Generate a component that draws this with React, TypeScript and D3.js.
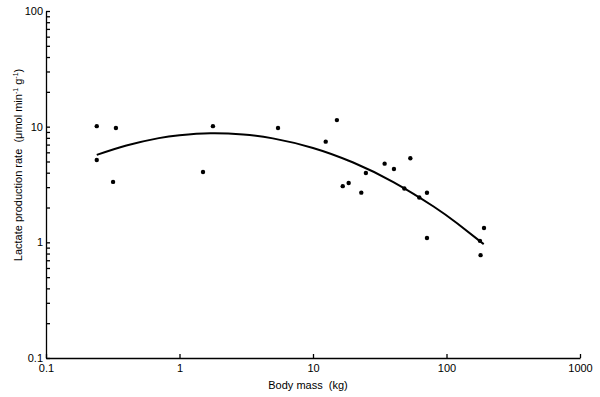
import React, { useEffect, useRef } from 'react';
import * as d3 from 'd3';

// body mass (kg) and lactate production rate
const massKg = [0.24, 0.24, 0.334, 0.318, 1.5, 1.78, 5.47, 12.45, 15.1, 16.7, 18.5, 23.0, 24.9, 34.4, 40.4, 53.6, 48.3, 62.5, 71.4, 71.4, 178, 191, 180];
const lactateRate = [10.1, 5.15, 9.75, 3.33, 4.06, 10.1, 9.75, 7.42, 11.4, 3.06, 3.26, 2.69, 3.98, 4.79, 4.31, 5.33, 2.92, 2.44, 2.68, 1.09, 1.03, 1.33, 0.775];

// fitted curve
const fitMass = [0.24, 0.4, 0.7, 1, 1.7, 3, 5, 10, 20, 40, 80, 120, 190];
const fitRate = [5.7, 6.88, 7.96, 8.43, 8.77, 8.56, 7.92, 6.55, 4.9, 3.32, 2.04, 1.46, 0.965];

const xTicks = [0.1, 1, 10, 100, 1000];
const yMajor = [0.1, 1, 10, 100];
const yMinorMult = [2, 3, 4, 5, 6, 7, 8, 9];

const App = () => {
  const svgRef = useRef(null);

  useEffect(() => {
    const svg = d3.select(svgRef.current);
    svg.selectAll('*').remove();

    const width = 600;
    const height = 397;
    const left = 46, right = 580, top = 11, bottom = 358;
    const font = 'Arial, "Liberation Sans", sans-serif';

    svg.append('rect').attr('width', width).attr('height', height).attr('fill', 'white');

    const x = d3.scaleLog().domain([0.1, 1000]).range([left, right]);
    const y = d3.scaleLog().domain([0.1, 100]).range([bottom, top]);

    const yTicks = [...yMajor];
    yMajor.slice(0, 3).forEach(m => yMinorMult.forEach(k => yTicks.push(+(m * k).toPrecision(3))));

    // x axis
    const gx = svg.append('g')
      .attr('transform', `translate(0,${bottom})`)
      .call(d3.axisBottom(x).tickValues(xTicks).tickFormat(d => String(d))
        .tickSizeInner(-4).tickSizeOuter(0).tickPadding(6));
    gx.selectAll('text').attr('font-family', font).attr('font-size', 11).attr('fill', 'black');
    gx.selectAll('line, path').attr('stroke', 'black').attr('stroke-width', 1.3);

    // y axis
    const gy = svg.append('g')
      .attr('transform', `translate(${left},0)`)
      .call(d3.axisLeft(y).tickValues(yTicks)
        .tickFormat(d => (yMajor.includes(d) ? String(d) : ''))
        .tickSizeInner(-4).tickSizeOuter(0).tickPadding(3));
    gy.selectAll('text').attr('font-family', font).attr('font-size', 11).attr('fill', 'black');
    gy.selectAll('line, path').attr('stroke', 'black').attr('stroke-width', 1.3);

    // fitted curve
    const fit = fitMass.map((m, i) => [m, fitRate[i]]);
    svg.append('path')
      .datum(fit)
      .attr('fill', 'none')
      .attr('stroke', 'black')
      .attr('stroke-width', 2)
      .attr('d', d3.line().x(d => x(d[0])).y(d => y(d[1])).curve(d3.curveNatural));

    // points
    svg.append('g')
      .selectAll('circle')
      .data(massKg.map((m, i) => [m, lactateRate[i]]))
      .enter()
      .append('circle')
      .attr('cx', d => x(d[0]))
      .attr('cy', d => y(d[1]))
      .attr('r', 2.2)
      .attr('fill', 'black');

    // axis titles
    svg.append('text')
      .attr('x', 308)
      .attr('y', 389)
      .attr('text-anchor', 'middle')
      .attr('font-family', font)
      .attr('font-size', 11)
      .style('white-space', 'pre')
      .text('Body mass  (kg)');

    const yt = svg.append('text')
      .attr('transform', 'translate(22,165) rotate(-90)')
      .attr('text-anchor', 'middle')
      .attr('font-family', font)
      .attr('font-size', 11)
      .style('white-space', 'pre');
    yt.append('tspan').text('Lactate production rate  (μmol min');
    yt.append('tspan').attr('dy', -4).attr('font-size', 7).text('-1');
    yt.append('tspan').attr('dy', 4).text(' g');
    yt.append('tspan').attr('dy', -4).attr('font-size', 7).text('-1');
    yt.append('tspan').attr('dy', 4).text(')');
  }, []);

  return (
    <svg ref={svgRef} width="600" height="397"
      style={{ position: 'absolute', left: 0, top: 0, display: 'block' }} />
  );
};

export default App;
